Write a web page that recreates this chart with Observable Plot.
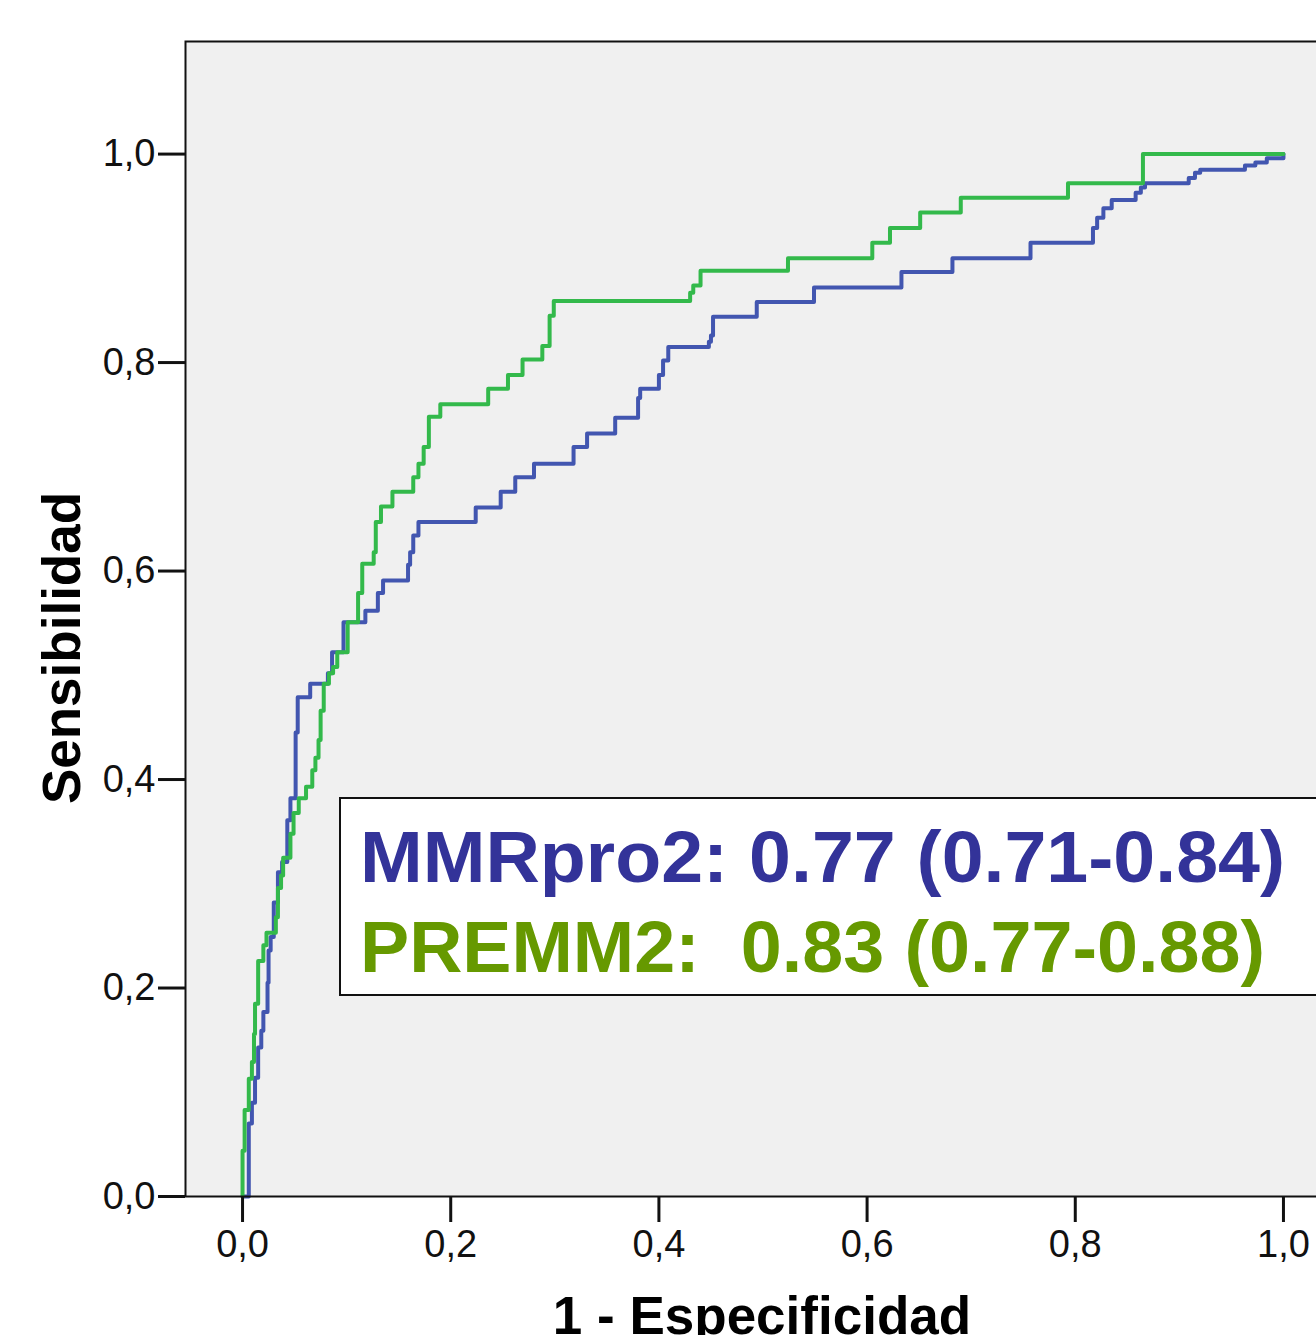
<!DOCTYPE html>
<html><head><meta charset="utf-8">
<script src="https://cdn.jsdelivr.net/npm/d3@7"></script>
<script src="https://cdn.jsdelivr.net/npm/@observablehq/plot@0.6"></script>
<style>html,body{margin:0;padding:0;background:#fff;overflow:hidden;width:1316px;height:1335px}#chart{width:1316px;height:1335px;overflow:hidden}#chart svg{max-width:none !important;width:1340px;height:1335px}</style>
</head><body><div id="chart"></div>
<script>
// ROC curve points (1 - specificity, sensitivity)
const mmrFpr = [0,0.006,0.009,0.012,0.015,0.018,0.020,0.024,0.025,0.027,0.030,0.034,0.038,0.043,0.046,0.051,0.053,0.065,0.082,0.086,0.097,0.118,0.130,0.135,0.159,0.161,0.164,0.169,0.224,0.248,0.262,0.280,0.318,0.331,0.358,0.380,0.382,0.400,0.404,0.409,0.448,0.450,0.452,0.494,0.549,0.633,0.682,0.757,0.817,0.821,0.827,0.835,0.858,0.863,0.867,0.909,0.915,0.920,0.963,0.973,0.984,1.000];
const mmrTpr = [0,0.070,0.090,0.114,0.143,0.159,0.177,0.205,0.236,0.249,0.282,0.311,0.321,0.361,0.382,0.445,0.479,0.492,0.502,0.522,0.551,0.562,0.579,0.591,0.606,0.618,0.634,0.647,0.661,0.676,0.690,0.703,0.719,0.732,0.747,0.766,0.775,0.788,0.802,0.815,0.820,0.826,0.844,0.858,0.872,0.887,0.900,0.915,0.929,0.939,0.948,0.956,0.963,0.968,0.972,0.977,0.982,0.985,0.989,0.992,0.996,1.000];
const premmFpr = [0,0,0.002,0.006,0.009,0.011,0.012,0.015,0.020,0.023,0.032,0.034,0.037,0.039,0.046,0.049,0.054,0.061,0.067,0.070,0.073,0.075,0.078,0.083,0.087,0.091,0.101,0.111,0.115,0.126,0.128,0.133,0.144,0.164,0.169,0.174,0.179,0.190,0.236,0.255,0.269,0.288,0.295,0.299,0.430,0.433,0.440,0.524,0.605,0.622,0.651,0.690,0.793,0.865,1.000];
const premmTpr = [0,0.044,0.083,0.113,0.129,0.156,0.185,0.226,0.241,0.253,0.268,0.296,0.308,0.325,0.348,0.368,0.382,0.393,0.409,0.421,0.438,0.466,0.492,0.502,0.508,0.522,0.551,0.579,0.607,0.618,0.647,0.662,0.676,0.690,0.703,0.719,0.748,0.760,0.775,0.788,0.803,0.816,0.845,0.859,0.867,0.874,0.888,0.900,0.915,0.929,0.944,0.958,0.972,1.000,1.000];
const axisTicks = [0, 0.2, 0.4, 0.6, 0.8, 1.0];
const xTitle = "1 - Especificidad";
const yTitle = "Sensibilidad";
const legendLines = ["MMRpro2: 0.77 (0.71-0.84)", "PREMM2:  0.83 (0.77-0.88)"];

const lineColors = {MMRpro2: "#4256b0", PREMM2: "#33b94b"};
const textColors = ["#333399", "#669900"];

const mmr = mmrFpr.map((x, i) => ({x, y: mmrTpr[i]}));
const premm = premmFpr.map((x, i) => ({x, y: premmTpr[i]}));
const fmt = d => d.toFixed(1).replace(".", ",");

const svg = Plot.plot({
  width: 1340, height: 1335,
  marginLeft: 185, marginRight: 0, marginTop: 41, marginBottom: 139,
  style: {fontFamily: "'Liberation Sans', Arial, sans-serif", fontSize: "38px", color: "#111", background: "#fff", overflow: "visible", maxWidth: "none"},
  x: {domain: [-0.0548, 1.0548]},
  y: {domain: [0, 1.108]},
  marks: [
    Plot.frame({fill: "#f0f0f0"}),
    Plot.line(mmr, {x: "x", y: "y", curve: "step-after", stroke: lineColors.MMRpro2, strokeWidth: 4}),
    Plot.line(premm, {x: "x", y: "y", curve: "step-after", stroke: lineColors.PREMM2, strokeWidth: 4}),
    Plot.frame({stroke: "#111", strokeWidth: 2}),
    Plot.axisX({ticks: axisTicks, tickFormat: fmt, tickSize: 26, tickPadding: 8, strokeWidth: 3, label: null, fontSize: 38}),
    Plot.axisY({ticks: axisTicks, tickFormat: fmt, tickSize: 27, tickPadding: 3, strokeWidth: 3, label: null, fontSize: 38})
  ]
});
document.getElementById("chart").appendChild(svg);

const s = d3.select(svg);
s.append("text").attr("x", 762).attr("y", 1334).attr("text-anchor", "middle")
  .attr("font-weight", "bold").attr("font-size", 53).attr("fill", "#000").text(xTitle);
s.append("text").attr("transform", "translate(80,648) rotate(-90)").attr("text-anchor", "middle")
  .attr("font-weight", "bold").attr("font-size", 53).attr("fill", "#000").text(yTitle);

const lg = s.append("g").attr("text-anchor", "start");
lg.append("rect").attr("x", 340).attr("y", 798).attr("width", 1100).attr("height", 197)
  .attr("fill", "#fff").attr("stroke", "#111").attr("stroke-width", 2);
const lens = [925, 905];
const bases = [882, 972];
legendLines.forEach((t, i) => {
  lg.append("text").attr("x", 360).attr("y", bases[i]).attr("text-anchor", "start")
    .attr("font-family", "'Liberation Sans Narrow', 'Liberation Sans', Arial, sans-serif")
    .attr("font-weight", "bold").attr("font-size", 72)
    .attr("textLength", lens[i]).attr("lengthAdjust", "spacingAndGlyphs")
    .style("white-space", "pre").attr("xml:space", "preserve")
    .attr("fill", textColors[i]).text(t);
});
</script></body></html>
